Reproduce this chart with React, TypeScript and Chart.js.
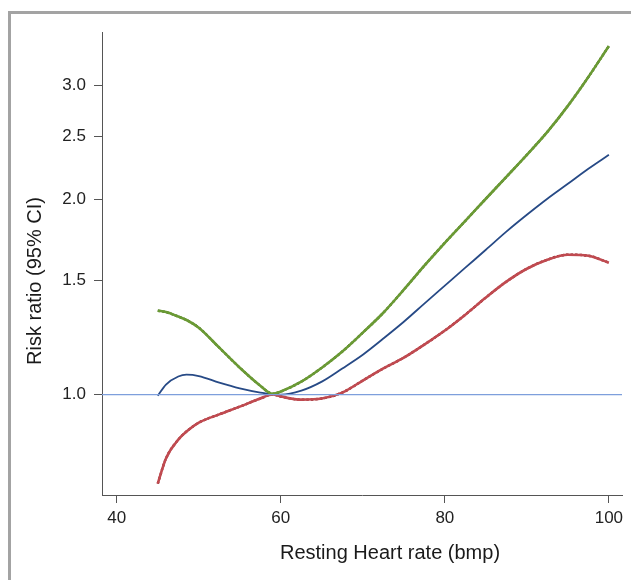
import React, { useEffect, useRef } from "react";
import { Chart, registerables } from "chart.js";

Chart.register(...registerables);

// Resting heart rate (bpm)
const heartRate = [45, 46, 47.5, 48.5, 50, 52.5, 55, 57.5, 59, 60, 62.5, 65, 67.5, 70, 72.5, 75, 77.5, 80, 82.5, 85, 87.5, 90, 92.5, 95, 97.5, 100];
// Risk ratio – central estimate
const rrCentral = [0.996, 1.036, 1.066, 1.073, 1.068, 1.043, 1.022, 1.007, 1.002, 1.0, 1.014, 1.047, 1.097, 1.152, 1.220, 1.295, 1.381, 1.472, 1.569, 1.672, 1.783, 1.893, 2.004, 2.113, 2.229, 2.342];
// Upper 95% CI
const rrUpper = [1.347, 1.340, 1.319, 1.303, 1.268, 1.181, 1.100, 1.032, 1.003, 1.011, 1.047, 1.100, 1.165, 1.246, 1.337, 1.451, 1.580, 1.714, 1.853, 2.004, 2.166, 2.342, 2.541, 2.787, 3.088, 3.447];
// Lower 95% CI
const rrLower = [0.729, 0.797, 0.852, 0.877, 0.905, 0.932, 0.958, 0.986, 1.0, 0.993, 0.982, 0.986, 1.007, 1.051, 1.097, 1.140, 1.194, 1.255, 1.328, 1.411, 1.493, 1.563, 1.614, 1.643, 1.637, 1.597];

const xTicks = [40, 60, 80, 100];
const yTicks = [1.0, 1.5, 2.0, 2.5, 3.0];
const xMin = 38.2;
const xMax = 101.6;
const yMin = 0.7;
const yMax = 3.62;
const referenceValue = 1.0;

const xTitle = "Resting Heart rate (bmp)";
const yTitle = "Risk ratio (95% CI)";

const FONT = "'Liberation Sans', Arial, Helvetica, sans-serif";

export default function App() {
  const canvasRef = useRef<HTMLCanvasElement | null>(null);

  useEffect(() => {
    const canvas = canvasRef.current;
    if (!canvas) return;
    const pts = (arr: number[]) => heartRate.map((x, i) => ({ x, y: arr[i] }));

    const titlePlugin = {
      id: "axisTitles",
      afterDraw(chart: any) {
        const ctx = chart.ctx;
        ctx.save();
        ctx.fillStyle = "#1a1a1a";
        ctx.font = `20px ${FONT}`;
        ctx.textAlign = "center";
        ctx.textBaseline = "middle";
        ctx.fillText(xTitle, 379, 539);
        ctx.translate(24, 267);
        ctx.rotate(-Math.PI / 2);
        ctx.fillText(yTitle, 0, 0);
        ctx.restore();
      },
    };

    const curve = { pointRadius: 0, cubicInterpolationMode: "monotone" };

    const chart = new Chart(canvas, {
      type: "line",
      data: {
        datasets: [
          {
            data: [
              { x: xMin, y: referenceValue },
              { x: xMax, y: referenceValue },
            ],
            borderColor: "#7e9fdc",
            borderWidth: 1.3,
            pointRadius: 0,
          },
          { data: pts(rrUpper), borderColor: "#6a9a34", borderWidth: 2.6, ...curve },
          { data: pts(rrUpper), borderColor: "#2e5608", borderWidth: 2.4, borderDash: [2.5, 2], ...curve },
          { data: pts(rrLower), borderColor: "#c04a50", borderWidth: 2.6, ...curve },
          { data: pts(rrLower), borderColor: "#7f1016", borderWidth: 2.4, borderDash: [2.5, 2], ...curve },
          { data: pts(rrCentral), borderColor: "#274a86", borderWidth: 1.8, ...curve },
        ],
      },
      options: {
        animation: false,
        responsive: false,
        devicePixelRatio: 1,
        layout: { padding: { left: 0, right: 9, top: 15, bottom: 0 } },
        plugins: {
          legend: { display: false },
          tooltip: { enabled: false },
          title: { display: false },
        },
        scales: {
          x: {
            type: "linear",
            min: xMin,
            max: xMax,
            afterBuildTicks: (s: any) => {
              s.ticks = xTicks.map((v) => ({ value: v }));
            },
            afterFit: (s: any) => {
              s.height = 85;
            },
            grid: {
              drawOnChartArea: false,
              drawTicks: true,
              tickLength: 8,
              tickColor: "#555",
              tickWidth: 1,
            },
            border: { display: true, color: "#555", width: 1 },
            ticks: {
              color: "#222",
              font: { family: FONT, size: 17 },
              padding: 5,
              maxRotation: 0,
              autoSkip: false,
              callback: (v: any) => String(v),
            },
          },
          y: {
            type: "logarithmic",
            min: yMin,
            max: yMax,
            afterBuildTicks: (s: any) => {
              s.ticks = yTicks.map((v) => ({ value: v }));
            },
            afterFit: (s: any) => {
              s.width = 91;
            },
            grid: {
              drawOnChartArea: false,
              drawTicks: true,
              tickLength: 8,
              tickColor: "#555",
              tickWidth: 1,
            },
            border: { display: true, color: "#555", width: 1 },
            ticks: {
              color: "#222",
              font: { family: FONT, size: 17 },
              padding: 8,
              autoSkip: false,
              callback: (v: any) => Number(v).toFixed(1),
            },
          },
        },
      },
      plugins: [titlePlugin],
    } as any);

    return () => chart.destroy();
  }, []);

  return (
    <div
      style={{
        position: "fixed",
        left: 8,
        top: 11,
        right: 0,
        bottom: 0,
        borderLeft: "3px solid #a3a3a3",
        borderTop: "3px solid #a3a3a3",
        background: "#fff",
        overflow: "hidden",
      }}
    >
      <canvas
        ref={canvasRef}
        width={620}
        height={566}
        style={{ position: "absolute", left: 0, top: 0, width: 620, height: 566 }}
      />
    </div>
  );
}
